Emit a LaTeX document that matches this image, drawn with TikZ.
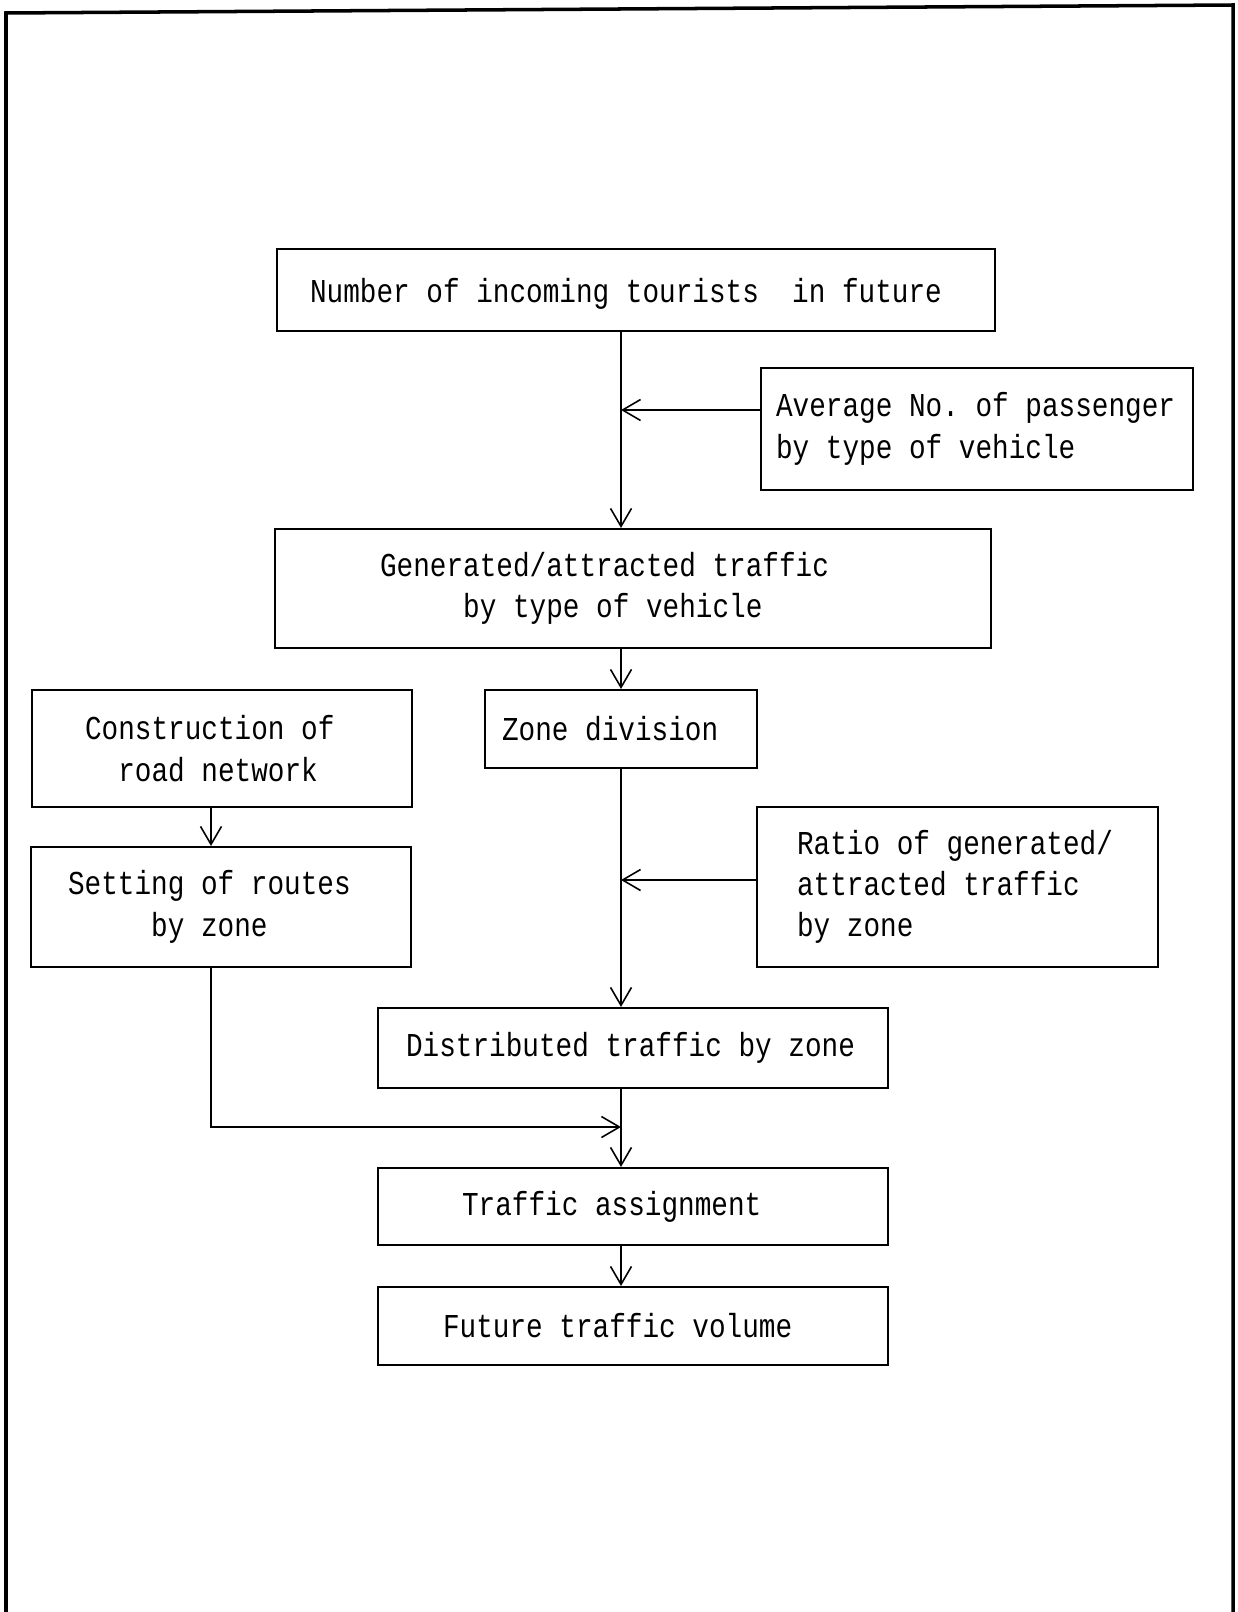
\documentclass[tikz,border=0pt]{standalone}
\usepackage{fontspec}
\usepackage{tikz}
\usetikzlibrary{arrows.meta}
\newfontfamily\boxfont[FakeStretch=0.83]{Liberation Mono}
% typewriter look: a space is as wide as a letter
\newlength\cellwd
\newcommand\boxsetup{\boxfont\fontsize{19}{23.5}\selectfont\frenchspacing}
\newcommand\cellspace{\settowidth\cellwd{x}\spaceskip=\cellwd\xspaceskip=\cellwd\hyphenpenalty=10000\relax}

\begin{document}
\begin{tikzpicture}[x=0.02cm,y=-0.02cm,
  box/.style={draw,line width=1.2pt,inner sep=0pt,align=left,font=\boxsetup,
    execute at begin node=\cellspace},
  arr/.style={line width=0.9pt,-{Straight Barb[length=0.36cm,width=0.42cm]}}]
\useasboundingbox (0,0) rectangle (1237,1612);
% outer frame (open at the bottom)
\draw[line width=2pt] (6,1612) -- (6,13) -- (1233,5) -- (1233,1612);

% boxes
\node[box,minimum width=14.36cm,minimum height=1.64cm,text width=13.04cm,text depth=0pt] (tour) at (636,290) {Number of incoming tourists~ in future};
\node[box,minimum width=8.64cm,minimum height=2.44cm,text width=8.04cm] (avg) at (977,429) {Average No. of passenger\\by type of vehicle};
\node[box,minimum width=14.32cm,minimum height=2.38cm,text width=10.12cm] (gen) at (633,588.5) {Generated/attracted traffic\\\phantom{xxxxx}by type of vehicle};
\node[box,minimum width=7.6cm,minimum height=2.34cm,text width=5.48cm] (cons) at (222,748.5) {Construction of\\\phantom{xx}road network};
\node[box,minimum width=5.44cm,minimum height=1.56cm,text width=4.76cm] (zone) at (621,729) {Zone division};
\node[box,minimum width=7.6cm,minimum height=2.4cm,text width=6.12cm] (set) at (221,907) {Setting of routes\\\phantom{xxxxx}by zone};
\node[box,minimum width=8.02cm,minimum height=3.2cm,text width=6.42cm] (ratio) at (957.5,887) {Ratio of generated/\\attracted traffic\\by zone};
\node[box,minimum width=10.2cm,minimum height=1.6cm,text width=9.08cm] (dist) at (633,1048) {Distributed traffic by zone};
\node[box,minimum width=10.2cm,minimum height=1.54cm,text width=6.84cm] (assign) at (633,1206.5) {Traffic assignment};
\node[box,minimum width=10.2cm,minimum height=1.56cm,text width=7.6cm] (fut) at (633,1326) {Future traffic volume};

% connectors
\coordinate (lcol) at (211,0);
\coordinate (avgin) at (621,410);
\coordinate (ratioin) at (621,880);
\coordinate (join) at (621,1127);
\draw[arr] (tour.south -| zone) -- (gen.north -| zone);
\draw[arr] (avg.west |- avgin) -- (avgin);
\draw[arr] (gen.south -| zone) -- (zone.north);
\draw[arr] (zone.south) -- (dist.north -| zone);
\draw[arr] (ratio.west |- ratioin) -- (ratioin);
\draw[arr] (cons.south -| lcol) -- (set.north -| lcol);
\draw[arr] (set.south -| lcol) |- (join);
\draw[arr] (dist.south -| zone) -- (assign.north -| zone);
\draw[arr] (assign.south -| zone) -- (fut.north -| zone);
\end{tikzpicture}
\end{document}
